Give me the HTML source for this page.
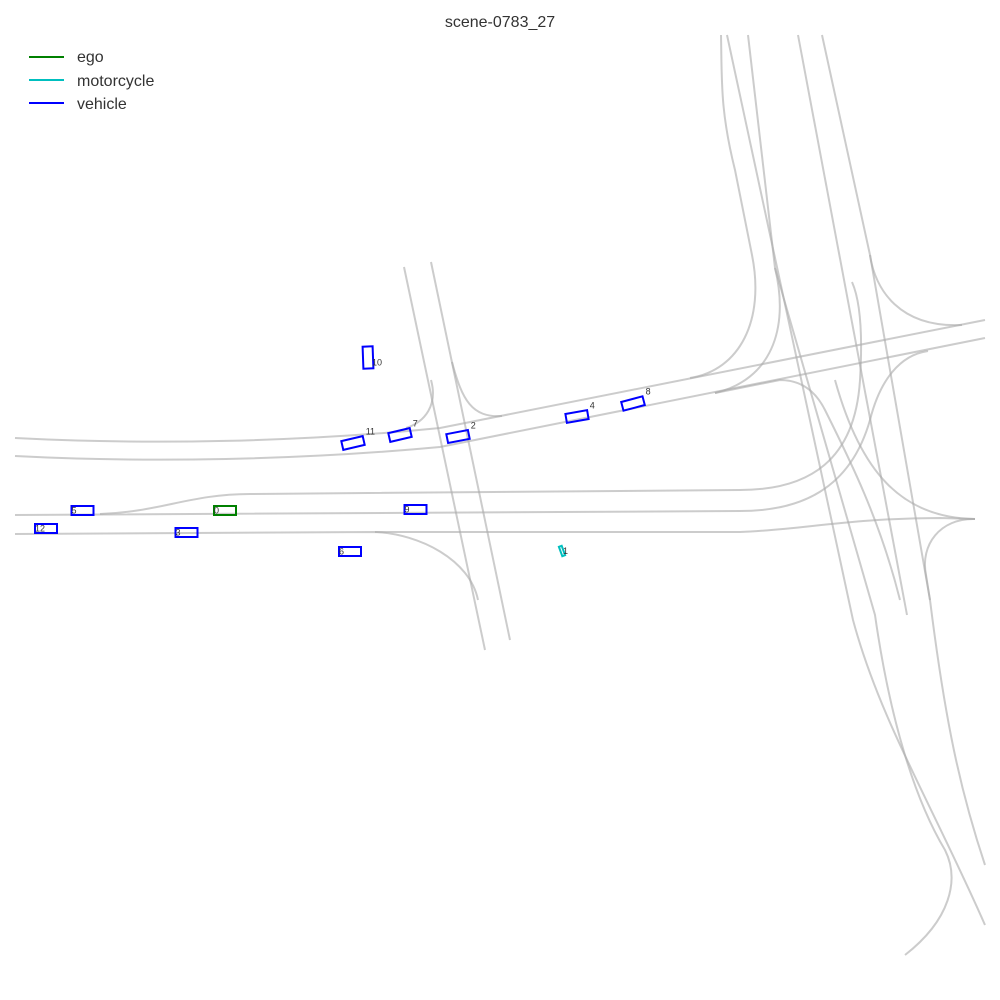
<!DOCTYPE html>
<html><head><meta charset="utf-8"><style>
html,body{margin:0;padding:0;background:#fff;}
svg{display:block;font-family:"Liberation Sans",sans-serif;}
.lane{fill:none;stroke:#aaa;stroke-opacity:0.6;stroke-width:2;}
</style></head><body>
<svg id="chart" width="1000" height="1000" viewBox="0 0 1000 1000">
<text x="500" y="27" text-anchor="middle" font-size="16" fill="#333">scene-0783_27</text>
<g>
<path class="lane" d="M15,438 C150,445 300,442 440,428 L985,320"/>
<path class="lane" d="M15,456 C150,463 300,460 440,447 L985,338"/>
<path class="lane" d="M100,514 C160,512 190,494 250,494 L740,490 C810,490 855,460 860,380 C863,330 860,300 852,282"/>
<path class="lane" d="M15,515 L740,511 C800,511 850,490 870,420 C880,380 900,355 928,351"/>
<path class="lane" d="M15,534 L375,532 C420,534 470,560 478,600"/>
<path class="lane" d="M375,532 L740,532 C800,530 850,518 940,518 L975,519"/>
<path class="lane" d="M975,519 C940,518 920,545 926,575 L930,600"/>
<path class="lane" d="M962,325 C900,328 875,290 870,255"/>
<path class="lane" d="M721,35 C722,80 720,110 735,170 L752,255 C765,320 740,370 690,378"/>
<path class="lane" d="M748,35 L775,268 C790,330 770,380 715,393"/>
<path class="lane" d="M727,35 L853,620 C880,720 930,800 985,925"/>
<path class="lane" d="M775,268 L875,615 C890,720 915,800 945,850 C960,880 950,920 905,955"/>
<path class="lane" d="M798,35 L907,615"/>
<path class="lane" d="M822,35 L870,255 L930,600 C945,720 960,790 985,865"/>
<path class="lane" d="M715,393 L780,380 C800,380 815,390 825,410 C850,460 880,520 900,600"/>
<path class="lane" d="M835,380 C860,470 900,518 975,519"/>
<path class="lane" d="M404,267 L485,650"/>
<path class="lane" d="M431,262 L510,640"/>
<path class="lane" d="M431,380 C438,405 425,422 406,428"/>
<path class="lane" d="M452,362 C462,400 472,418 502,416"/>
</g>
<g id="agents"></g>
<g font-size="16" fill="#333">
<line x1="29" y1="57" x2="64" y2="57" stroke="green" stroke-width="2"/>
<text x="77" y="62">ego</text>
<line x1="29" y1="80" x2="64" y2="80" stroke="#00bfbf" stroke-width="2"/>
<text x="77" y="86">motorcycle</text>
<line x1="29" y1="103" x2="64" y2="103" stroke="blue" stroke-width="2"/>
<text x="77" y="109">vehicle</text>
</g>
</svg>
<script>
const ids = ["0","5","12","3","6","9","10","11","7","2","4","8","1"];
const types = ["ego","vehicle","vehicle","vehicle","vehicle","vehicle","vehicle","vehicle","vehicle","vehicle","vehicle","vehicle","motorcycle"];
const cx = [225,82.5,46,186.5,350,415.5,368,353,400,458,577,633,562];
const cy = [510.5,510.5,528.5,532.5,551.5,509.5,357.5,443,435,436.5,416.5,403.5,551];
const lens = [22,22,22,22,22,22,22,22,22,22,22,22,10];
const wids = [9,9,9,9,9,9,10,9,9,9,9,9,3];
const headings = [0,0,0,0,0,0,88,-13,-13,-11,-10,-15,70];
const colors = {ego:"green",vehicle:"blue",motorcycle:"#00bfbf"};
const g = document.getElementById('agents');
const NS = "http://www.w3.org/2000/svg";
for (let i = 0; i < ids.length; i++) {
  const a = headings[i] * Math.PI / 180, c = Math.cos(a), s = Math.sin(a);
  const hl = lens[i] / 2, hw = wids[i] / 2;
  const pts = [[-hl,-hw],[hl,-hw],[hl,hw],[-hl,hw]].map(p => (cx[i] + p[0]*c - p[1]*s).toFixed(1) + "," + (cy[i] + p[0]*s + p[1]*c).toFixed(1)).join(" ");
  const poly = document.createElementNS(NS, "polygon");
  poly.setAttribute("points", pts);
  poly.setAttribute("fill", "none");
  poly.setAttribute("stroke", colors[types[i]]);
  poly.setAttribute("stroke-width", "2");
  
  
  g.appendChild(poly);
  const t = document.createElementNS(NS, "text");
  let lx, ly;
  if (types[i] === "motorcycle") { lx = cx[i] + 1; ly = cy[i] + 3; }
  else if (headings[i] === 88) { lx = cx[i] + 4; ly = cy[i] + 8; }
  else if (headings[i] !== 0) { lx = cx[i] + hl*c + 2; ly = cy[i] - Math.abs(hl*s) - 6; }
  else { lx = cx[i] - hl; ly = cy[i] + 3; }
  t.setAttribute("x", lx.toFixed(1));
  t.setAttribute("y", ly.toFixed(1));
  t.setAttribute("font-size", "9");
  t.setAttribute("fill", "#333");
  t.textContent = ids[i];
  
  
  g.appendChild(t);
}
</script>
</body></html>
